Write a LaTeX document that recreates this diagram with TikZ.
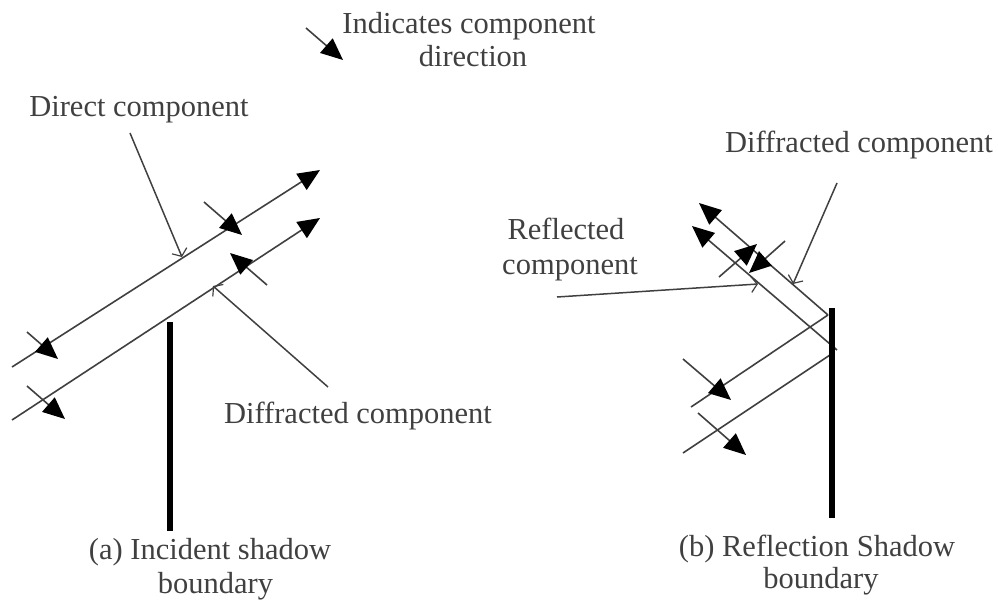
\documentclass[tikz,border=0pt]{standalone}
\usepackage{fontspec}
\setmainfont{Liberation Serif}
\usetikzlibrary{arrows.meta}
\definecolor{ln}{gray}{0.25}
\definecolor{tx}{gray}{0.25}
\tikzset{
  ray/.style={draw=ln,line width=1.6pt,-{Triangle[length=22pt,width=19pt,fill=black,color=black]}},
  plain/.style={draw=ln,line width=1.6pt},
  lead/.style={draw=ln,line width=1.5pt,-{Straight Barb[length=6pt,width=16pt,line width=1.2pt]}},
  barrier/.style={draw=black,line width=5.5pt},
  lab/.style={text=tx,font=\fontsize{30.5}{35}\selectfont,align=center,inner sep=0pt},
}
\begin{document}
\begin{tikzpicture}[x=1pt,y=-1pt]
\useasboundingbox (0,0) rectangle (998,600);
% labels
\node[lab] (legenda) at (469,26) {Indicates component};
\node[lab] (legendb) at (473,56) {direction};
\node[lab] (direct) at (139,110) {Direct component};
\node[lab] (diffa) at (358,416) {Diffracted component};
\node[lab] (capa) at (210,552) {(a) Incident shadow};
\node[lab] (capa2) at (215.5,586) {boundary};
\node[lab] (diffb) at (859,145) {Diffracted component};
\node[lab] (refl) at (566,229) {Reflected};
\node[lab] (refl2) at (570,269) {component};
\node[lab] (capb) at (817,549) {(b) Reflection Shadow};
\node[lab] (capb2) at (821,581) {boundary};
% coordinates
\foreach \n/\x/\y in {
 la1/12/367, la2/320/170, lb1/12/420, lb2/320/218,
 sa1/204/202, sa2/242/235, sb1/267/285, sb2/230/253,
 sc1/27/332, sc2/58/359, sd1/27/386, sd2/65/419,
 ba1/170/322, ba2/170/531,
 da1/130/133, da2/182/257, db1/328/387, db2/213/286,
 ra1/828/315, ra2/699/203, ra3/691/407,
 rb1/837/350, rb2/692/226, rb3/830/355, rb4/683/453,
 ta1/719/277, ta2/757/244, tb1/785/241, tb2/749/273,
 tc1/683/359, tc2/731/400, td1/698/413, td2/746/455,
 ea1/837/183, ea2/793/284, ec1/557/297, ec2/758/284,
 bb1/832/308, bb2/832/518, k1/306/28, k2/343/60}
 {\coordinate (\n) at (\x,\y);}
% (a)
\draw[ray] (la1) -- (la2);
\draw[ray] (lb1) -- (lb2);
\draw[ray] (sa1) -- (sa2);
\draw[ray] (sb1) -- (sb2);
\draw[ray] (sc1) -- (sc2);
\draw[ray] (sd1) -- (sd2);
\draw[barrier] (ba1) -- (ba2);
\draw[lead] (da1) -- (da2);
\draw[lead] (db1) -- (db2);
% (b)
\draw[ray] (ra1) -- (ra2);
\draw[plain] (ra1) -- (ra3);
\draw[ray] (rb1) -- (rb2);
\draw[plain] (rb3) -- (rb4);
\draw[ray] (ta1) -- (ta2);
\draw[ray] (tb1) -- (tb2);
\draw[ray] (tc1) -- (tc2);
\draw[ray] (td1) -- (td2);
\draw[lead] (ea1) -- (ea2);
\draw[lead] (ec1) -- (ec2);
\draw[barrier] (bb1) -- (bb2);
% key
\draw[ray] (k1) -- (k2);
\end{tikzpicture}
\end{document}
